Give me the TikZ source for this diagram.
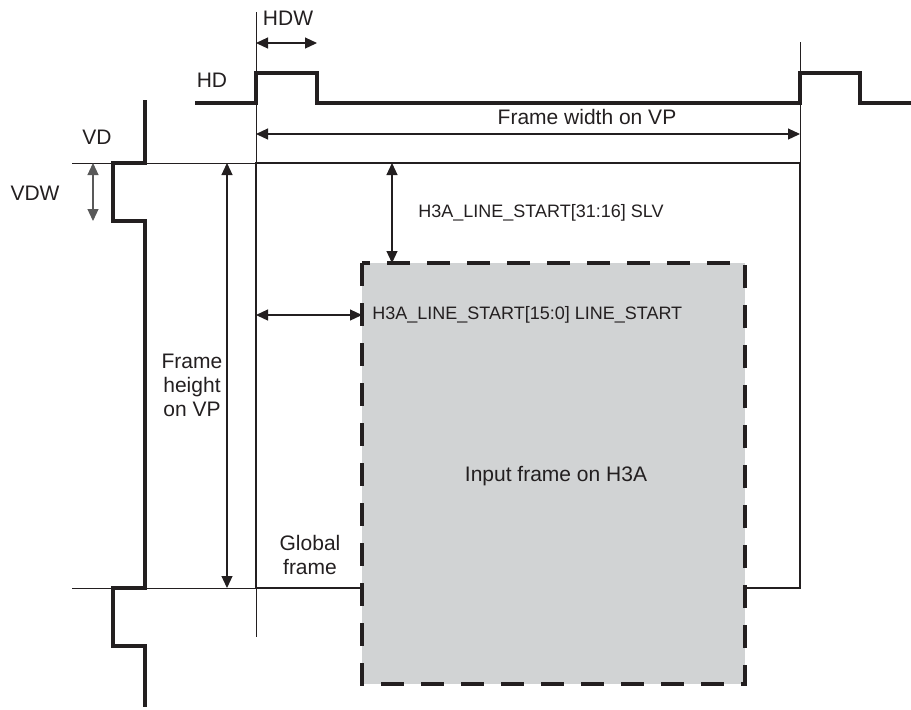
\documentclass[tikz,border=0pt]{standalone}
\usepackage{fontspec}
\setmainfont{Liberation Sans}
\usetikzlibrary{arrows.meta}
\definecolor{tiink}{RGB}{35,31,32}
\definecolor{tigray}{RGB}{209,211,212}

\begin{document}
\begin{tikzpicture}[x=.5pt,y=-.5pt,font=\fontsize{10.5}{12}\selectfont,text=tiink,
guide/.style={line width=.5pt,draw=tiink},
sig/.style={line width=1.6pt,draw=tiink,line join=miter},
frm/.style={line width=1pt,draw=tiink},
h3abox/.style={line width=2pt,draw=tiink,fill=tigray,dash pattern=on 11.5pt off 8.5pt},
dim/.style={{Triangle[length=6pt,width=5.5pt]}-{Triangle[length=6pt,width=5.5pt]},line width=.6pt,draw=tiink},
reg/.style={anchor=west,inner sep=0pt,font=\fontsize{9}{11}\selectfont}]
\useasboundingbox (0,0) rectangle (911,709);

% corners of the global frame and of the H3A input frame
\coordinate (fTL) at (256,163);\coordinate (fTR) at (800,163);
\coordinate (fBR) at (800,588);\coordinate (fBL) at (256,588);
\coordinate (bTL) at (362,263);\coordinate (bBR) at (745,684);

% guide lines
\draw[guide](256,12)--(256,637);\draw[guide](800,42)--(fTR);
\draw[guide](72,163)--(fTL);\draw[guide](72,588)--(fBL);

% HD and VD waveforms
\draw[sig](195,103)--(256,103)--(256,73)--(317,73)--(317,103)--(800,103)--(800,73)--(860,73)--(860,103)--(911,103);
\draw[sig](145,100)--(145,163)--(113,163)--(113,221)--(145,221)--(145,588)--(113,588)--(113,646)--(145,646)--(145,707);

% global frame and H3A input frame
\draw[frm](fBL)--(fTL)--(fTR)--(fBR)--(fBL);
\draw[h3abox](bTL) rectangle (bBR);

\node(hd)at(212,80){HD};
\node(hdw)at(288,18){HDW};
\node(vd)at(97,137){VD};
\node(vdw)at(35,193){VDW};
\node(fw)at(587,117){Frame width on VP};
\node[align=center](fh)at(192,385){Frame\\height\\on VP};
\node[align=center](gf)at(310,555){Global\\frame};
\node(inp)at(556,476){Input frame on H3A};
\node[reg](slv)at(418,213){H3A\_LINE\_START[31:16] SLV};
\node[reg](ls)at(372,315){H3A\_LINE\_START[15:0] LINE\_START};

% dimension arrows
\coordinate(hdwA)at(256,43);\coordinate(hdwB)at(317,43);
\coordinate(fwA)at(256,134);\coordinate(fwB)at(800,134);
\coordinate(fhA)at(227,163);\coordinate(fhB)at(227,588);
\coordinate(vdwA)at(93,163);\coordinate(vdwB)at(93,221);
\coordinate(slvA)at(392,163);\coordinate(slvB)at(392,263);
\coordinate(lsA)at(256,315);\coordinate(lsB)at(362,315);
\draw[dim](hdwA)--(hdwB);\draw[dim](fwA)--(fwB);\draw[dim](fhA)--(fhB);
\draw[dim,draw=black!65,{Triangle[length=6pt,width=5.5pt]}-{Triangle[length=6pt,width=5.5pt]}](vdwA)--(vdwB);
\draw[dim](slvA)--(slvB);\draw[dim](lsA)--(lsB);
\end{tikzpicture}
\end{document}
